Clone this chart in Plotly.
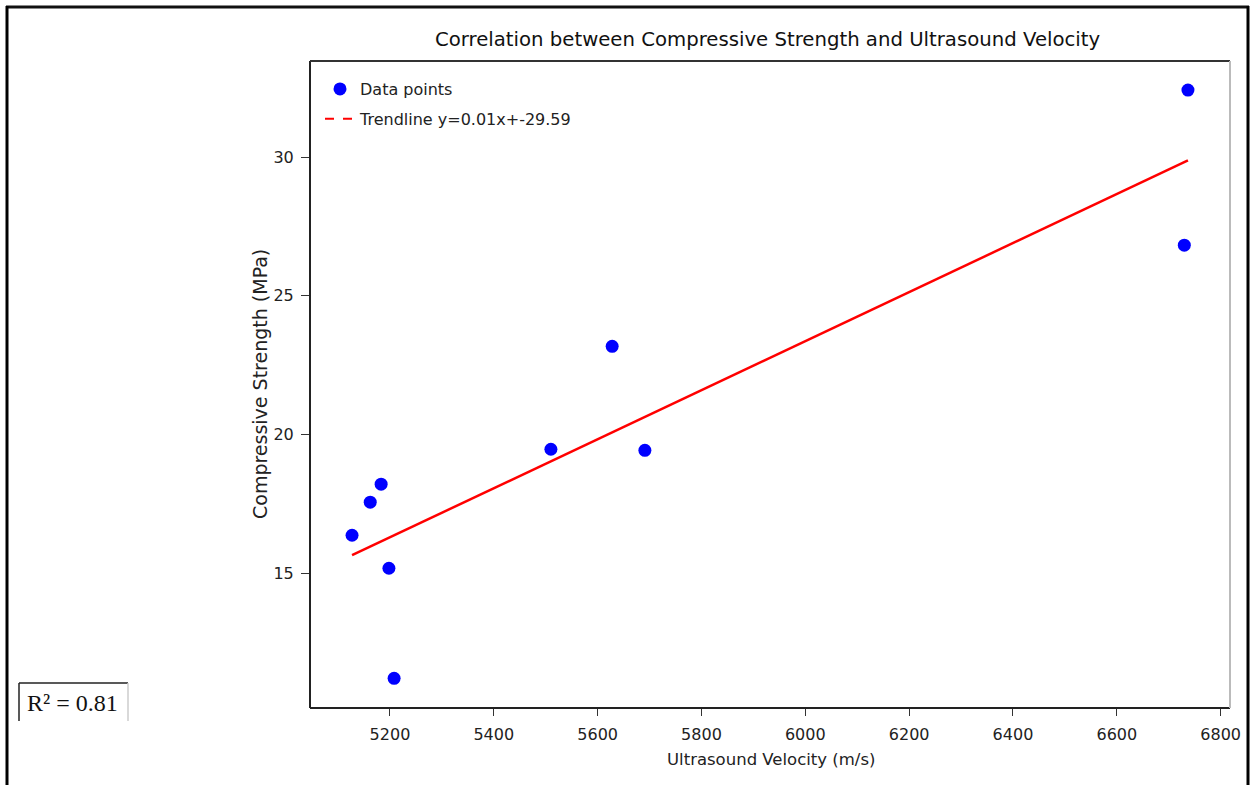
import numpy as np
import plotly.graph_objects as go

# Data
velocity = [5127, 5162, 5183, 5198, 5208, 5510, 5628, 5691, 6730, 6737]
strength = [16.37, 17.56, 18.21, 15.18, 11.21, 19.47, 23.18, 19.43, 26.83, 32.42]
x_ticks = [5200, 5400, 5600, 5800, 6000, 6200, 6400, 6600, 6800]
y_ticks = [15, 20, 25, 30]
title_text = "Correlation between Compressive Strength and Ultrasound Velocity"
trend_label = "Trendline y=0.01x+-29.59"
r2_text = "R² = 0.81"

slope, intercept = np.polyfit(velocity, strength, 1)
xs = np.array(velocity, dtype=float)
ys = slope * xs + intercept

W, H = 1251, 785
L, R, T, B = 310, 1230, 61, 708  # plot area in pixels


def px(xp):
    return (xp - L) / (R - L)


def py(yp):
    return (B - yp) / (B - T)


font = "DejaVu Sans"
fig = go.Figure()
fig.add_trace(go.Scatter(
    x=velocity, y=strength, mode="markers", name="Data points", legendgroup="a",
    marker=dict(color="#0000ff", size=13, line=dict(width=0)),
))
fig.add_trace(go.Scatter(
    x=xs, y=ys, mode="lines", showlegend=False,
    line=dict(color="#ff0000", width=2.5),
))
fig.add_trace(go.Scatter(
    x=[None], y=[None], mode="lines", name=trend_label, legendgroup="b",
    line=dict(color="#ff0000", width=2, dash="dash"),
))

axis_common = dict(
    showgrid=False, zeroline=False, showline=False, automargin=False,
    ticks="outside", tickwidth=1.2, tickcolor="#333",
)
fig.update_layout(
    width=W, height=H,
    margin=dict(l=L, r=W - R, t=T, b=H - B, autoexpand=False),
    paper_bgcolor="white", plot_bgcolor="white",
    showlegend=True,
    legend=dict(x=px(320), y=py(72), xanchor="left", yanchor="top",
                bgcolor="rgba(255,255,255,0)", borderwidth=0,
                font=dict(family=font, size=16, color="#222"),
                itemwidth=30, traceorder="grouped", tracegroupgap=6),
    xaxis=dict(range=[5046, 6818], tickvals=x_ticks, ticklen=7,
               ticklabelstandoff=5,
               tickfont=dict(family=font, size=16, color="#222"), **axis_common),
    yaxis=dict(range=[10.14, 33.47], tickvals=y_ticks, ticklen=8,
               ticklabelstandoff=4,
               tickfont=dict(family=font, size=16, color="#222"), **axis_common),
)

shapes = []
# axes spines
shapes.append(dict(type="line", xref="paper", yref="paper", x0=0, x1=0, y0=0, y1=1,
                   line=dict(color="#222", width=2)))
shapes.append(dict(type="line", xref="paper", yref="paper", x0=0, x1=1, y0=0, y1=0,
                   line=dict(color="#222", width=2)))
shapes.append(dict(type="line", xref="paper", yref="paper", x0=0, x1=1, y0=1, y1=1,
                   line=dict(color="#333", width=2)))
shapes.append(dict(type="line", xref="paper", yref="paper", x0=1, x1=1, y0=0, y1=1,
                   line=dict(color="#bbbbbb", width=2)))
# outer frame
shapes.append(dict(type="line", xref="paper", yref="paper", x0=px(6), x1=px(1249), y0=py(7), y1=py(7),
                   line=dict(color="#111", width=3)))
shapes.append(dict(type="line", xref="paper", yref="paper", x0=px(7), x1=px(7), y0=py(6), y1=py(790),
                   line=dict(color="#000", width=3)))
shapes.append(dict(type="line", xref="paper", yref="paper", x0=px(1248), x1=px(1248), y0=py(6), y1=py(790),
                   line=dict(color="#000", width=3)))
# R2 box
shapes.append(dict(type="line", xref="paper", yref="paper", x0=px(19), x1=px(19), y0=py(683), y1=py(721),
                   line=dict(color="#222", width=1.5)))
shapes.append(dict(type="line", xref="paper", yref="paper", x0=px(19), x1=px(128), y0=py(683), y1=py(683),
                   line=dict(color="#222", width=1.5)))
shapes.append(dict(type="line", xref="paper", yref="paper", x0=px(128), x1=px(128), y0=py(683), y1=py(721),
                   line=dict(color="#cccccc", width=1.5)))
fig.update_layout(shapes=shapes)

annotations = [
    dict(text=title_text, xref="paper", yref="paper", x=px(768), y=py(40),
         xanchor="center", yanchor="middle", showarrow=False,
         font=dict(family=font, size=19.7, color="#111")),
    dict(text="Ultrasound Velocity (m/s)", xref="paper", yref="paper", x=px(771), y=py(759),
         xanchor="center", yanchor="middle", showarrow=False,
         font=dict(family=font, size=16.5, color="#222")),
    dict(text="Compressive Strength (MPa)", xref="paper", yref="paper", x=px(260), y=py(384),
         xanchor="center", yanchor="middle", showarrow=False, textangle=-90,
         font=dict(family=font, size=19, color="#222")),
    dict(text=r2_text, xref="paper", yref="paper", x=px(72), y=py(703),
         xanchor="center", yanchor="middle", showarrow=False,
         font=dict(family="Liberation Serif", size=24, color="#111")),
]
fig.update_layout(annotations=annotations)

fig.write_html("out.html")
